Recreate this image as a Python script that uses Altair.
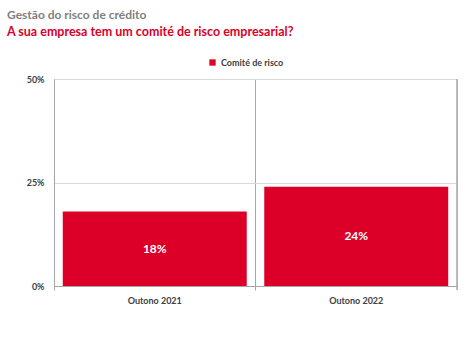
import altair as alt
import pandas as pd

periods = ["Outono 2021", "Outono 2022"]
values = [0.18, 0.24]
series = ["Comité de risco", "Comité de risco"]
y_ticks = [0, 0.25, 0.5]

RED = "#dc0028"
FONT = "Lato"

df = pd.DataFrame({"period": periods, "value": values, "series": series})

W, H = 403, 207

x = alt.X("period:N", sort=periods, title=None,
          scale=alt.Scale(paddingInner=0, paddingOuter=0),
          axis=alt.Axis(labelAngle=0, bandPosition=0, grid=True, gridColor="#a6a6a6",
                        gridWidth=1, domainColor="#a6a6a6", tickColor="#a6a6a6",
                        tickSize=4, labelPadding=6, labelFont=FONT, labelFontSize=9,
                        labelFontWeight="bold", labelColor="#404040"))
y = alt.Y("value:Q", title=None,
          scale=alt.Scale(domain=[0, 0.5]),
          axis=alt.Axis(values=y_ticks, format=".0%", grid=True, gridColor="#d9d9d9",
                        domain=True, domainColor="#a6a6a6", ticks=False, labelPadding=10,
                        labelFont=FONT, labelFontSize=9, labelFontWeight="bold",
                        labelColor="#404040"))

base = alt.Chart(df)

bars = base.mark_bar(width=alt.RelativeBandSize(0.913)).encode(
    x=x, y=y,
    color=alt.Color("series:N", title=None,
                    scale=alt.Scale(range=[RED]),
                    legend=alt.Legend(orient="none", legendX=154, legendY=-21,
                                      symbolType="square", symbolSize=40,
                                      symbolStrokeWidth=0, labelFont=FONT,
                                      labelFontSize=9, labelFontWeight="bold",
                                      labelColor="#404040", symbolOffset=0)),
)

labels = base.transform_calculate(mid="datum.value / 2").mark_text(
    color="white", font=FONT, fontSize=12, fontWeight="bold"
).encode(
    x=alt.X("period:N", sort=periods),
    y=alt.Y("mid:Q"),
    text=alt.Text("value:Q", format=".0%"),
)

right_edge = base.mark_rule(color="#a6a6a6").encode(
    x=alt.value(W), y=alt.value(0), y2=alt.value(H + 4)
)

chart = alt.layer(bars, labels, right_edge).properties(
    width=W, height=H,
    autosize=alt.AutoSizeParams(type="none"),
    padding={"left": 54, "top": 79, "right": 17, "bottom": 56},
    title=alt.TitleParams(
        text="Gestão do risco de crédito",
        subtitle="A sua empresa tem um comité de risco empresarial?",
        anchor="start", frame="group", dx=-47, offset=19,
        font=FONT, fontSize=12, fontWeight="bold", color="#7f7f7f",
        subtitleFont=FONT, subtitleFontSize=12.5, subtitleFontWeight="bold",
        subtitleColor=RED, subtitlePadding=4,
    ),
).configure_view(stroke=None).configure(background="white")

chart.save("out.html", embed_options={"renderer": "svg", "actions": False})
